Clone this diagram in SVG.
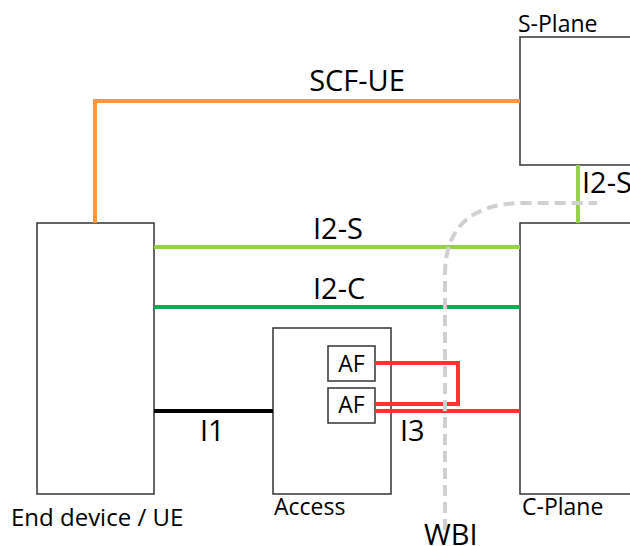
<svg xmlns="http://www.w3.org/2000/svg" width="630" height="546" viewBox="0 0 630 546">
<style>
.box{fill:#fff;stroke:#333;stroke-width:1.5}
.t{font-family:"Open Sans","Liberation Sans",sans-serif;fill:#000}
.big{font-size:29px}
.lbl{font-size:23px}
.ln{fill:none;stroke-width:4}
</style>
<rect width="630" height="546" fill="#fff"/>
<g id="splane">
<rect class="box" x="520" y="37" width="120" height="128"/>
<text class="t lbl" x="518" y="32">S-Plane</text>
</g>
<g id="ue">
<rect class="box" x="37" y="223" width="117" height="271"/>
<text class="t lbl" x="11" y="526" style="font-size:24px">End device / UE</text>
</g>
<g id="access">
<rect class="box" x="273" y="328" width="118" height="166"/>
<text class="t lbl" x="274" y="515">Access</text>
</g>
<g id="af1">
<rect class="box" x="328" y="346" width="47" height="35"/>
<text class="t lbl" x="351.5" y="372" text-anchor="middle">AF</text>
</g>
<g id="af2">
<rect class="box" x="328" y="388" width="47" height="35"/>
<text class="t lbl" x="351.5" y="413" text-anchor="middle">AF</text>
</g>
<g id="cplane">
<rect class="box" x="520" y="223" width="120" height="271"/>
<text class="t lbl" x="522" y="515">C-Plane</text>
</g>
<g id="connectors">
<path class="ln" d="M95,223 V101 H520" stroke="#F79646"/>
<path class="ln" d="M578,165 V223" stroke="#92D050"/>
<path class="ln" d="M154,247 H520" stroke="#92D050"/>
<path class="ln" d="M154,307 H520" stroke="#00B050"/>
<path class="ln" d="M154,411 H273" stroke="#000"/>
<path class="ln" d="M375,363 H458 V404 H375" stroke="#FF3333"/>
<path class="ln" d="M375,411 H520" stroke="#FF3333"/>
<path d="M445,530 V275 C445,228 470,203 525,203 H597" fill="none" stroke="#D0D0D0" stroke-width="4" stroke-dasharray="11,6"/>
<text class="t big" x="357" y="91" text-anchor="middle">SCF-UE</text>
<text class="t big" x="313" y="239">I2-S</text>
<text class="t big" x="313" y="299">I2-C</text>
<text class="t big" x="200" y="441">I1</text>
<text class="t big" x="400" y="441">I3</text>
<text class="t big" x="582" y="193">I2-S</text>
<text class="t big" x="424" y="545">WBI</text>
</g>
</svg>
